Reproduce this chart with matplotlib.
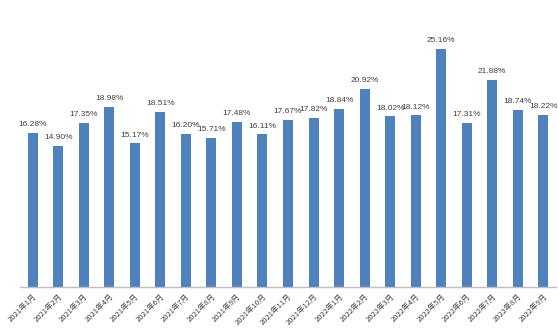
import matplotlib
matplotlib.use("Agg")
import matplotlib.pyplot as plt

# -------------------------------------------------
# DATA
# -------------------------------------------------
months = (
    [f"2021年{m}月" for m in range(1, 13)]
    + [f"2022年{m}月" for m in range(1, 10)]
)
rates = [16.28, 14.90, 17.35, 18.98, 15.17, 18.51, 16.20, 15.71, 17.48, 16.11,
         17.67, 17.82, 18.84, 20.92, 18.02, 18.12, 25.16, 17.31, 21.88, 18.74,
         18.22]

BAR_COLOR = "#4F81BD"
TEXT_COLOR = "#404040"

plt.rcParams["font.family"] = ["Noto Sans CJK SC", "DejaVu Sans"]

fig = plt.figure(figsize=(5.58, 3.34), dpi=100)
ax = fig.add_axes([20 / 558, 47 / 334, 536 / 558, 284 / 334])

x = list(range(len(rates)))
bars = ax.bar(x, rates, width=0.39, color=BAR_COLOR, zorder=2)

# value labels above each bar
for rect, v in zip(bars, rates):
    ax.annotate(f"{v:.2f}%",
                xy=(rect.get_x() + rect.get_width() / 2, rect.get_height()),
                xytext=(0, 3.5), textcoords="offset points",
                ha="center", va="bottom", fontsize=6,
                family="Liberation Sans", color=TEXT_COLOR)

ax.set_xlim(-0.5, len(rates) - 0.5)
ax.set_ylim(0, 30)
ax.set_yticks([])
ax.set_xticks(x)
ax.set_xticklabels(months, rotation=45, ha="right", rotation_mode="anchor",
                   fontsize=5.5, color=TEXT_COLOR)
ax.tick_params(axis="x", length=0, pad=4)

for side in ("top", "right", "left"):
    ax.spines[side].set_visible(False)
ax.spines["bottom"].set_color("#BFBFBF")
ax.spines["bottom"].set_linewidth(1.0)

fig.savefig("out.png", dpi=100)
